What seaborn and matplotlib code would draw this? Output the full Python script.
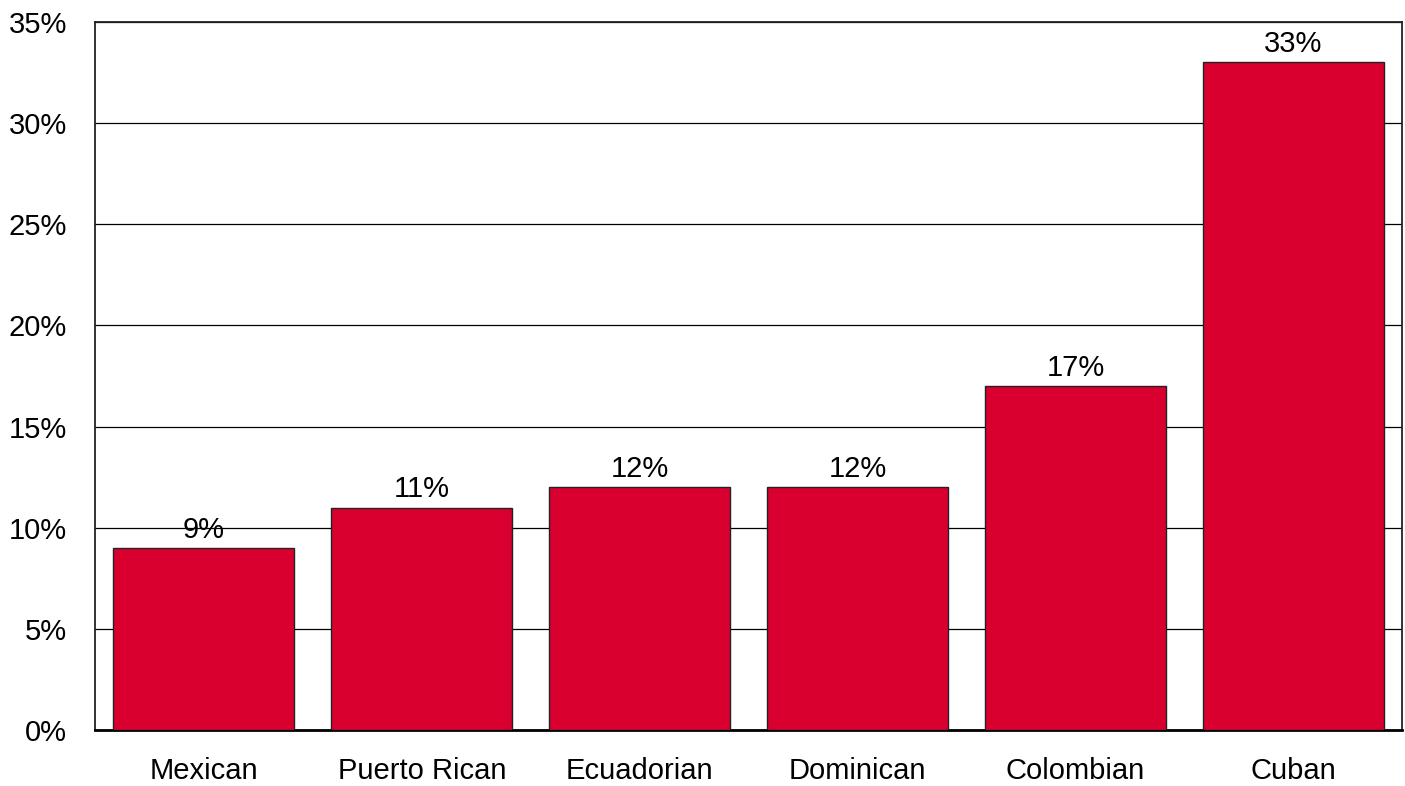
import matplotlib
matplotlib.use("Agg")
import matplotlib.pyplot as plt
import seaborn as sns
import pandas as pd
from matplotlib.ticker import FuncFormatter

categories = ['Mexican', 'Puerto Rican', 'Ecuadorian', 'Dominican', 'Colombian', 'Cuban']
values = [9, 11, 12, 12, 17, 33]
y_ticks = [0, 5, 10, 15, 20, 25, 30, 35]

sns.set_style('white')
plt.rcParams['font.family'] = ['Liberation Sans', 'DejaVu Sans']

df = pd.DataFrame({'group': categories, 'pct': values})

fig = plt.figure(figsize=(14.05, 7.86), dpi=100)
ax = fig.add_axes([0.0676, 0.0712, 0.9304, 0.9008])

sns.barplot(data=df, x='group', y='pct', color='#D90030', saturation=1,
            width=0.83, edgecolor='#222222', linewidth=1, ax=ax, zorder=3)

ax.set_ylim(0, 35)
ax.set_yticks(y_ticks)
ax.yaxis.set_major_formatter(FuncFormatter(lambda v, p: f'{v:.0f}%'))
ax.grid(axis='y', color='black', linewidth=0.9, zorder=0)
ax.set_axisbelow(True)
ax.set_xlabel('')
ax.set_ylabel('')
ax.tick_params(axis='both', length=0, labelsize=21, colors='black')
ax.tick_params(axis='x', pad=19.5)
ax.tick_params(axis='y', pad=20)

for side in ['left', 'top', 'right']:
    ax.spines[side].set_color('#222222')
    ax.spines[side].set_linewidth(1.3)
ax.spines['bottom'].set_color('black')
ax.spines['bottom'].set_linewidth(2)

for cont in ax.containers:
    ax.bar_label(cont, labels=[f'{v}%' for v in values], padding=3, fontsize=21, color='black')

fig.savefig('out.png', dpi=100)
